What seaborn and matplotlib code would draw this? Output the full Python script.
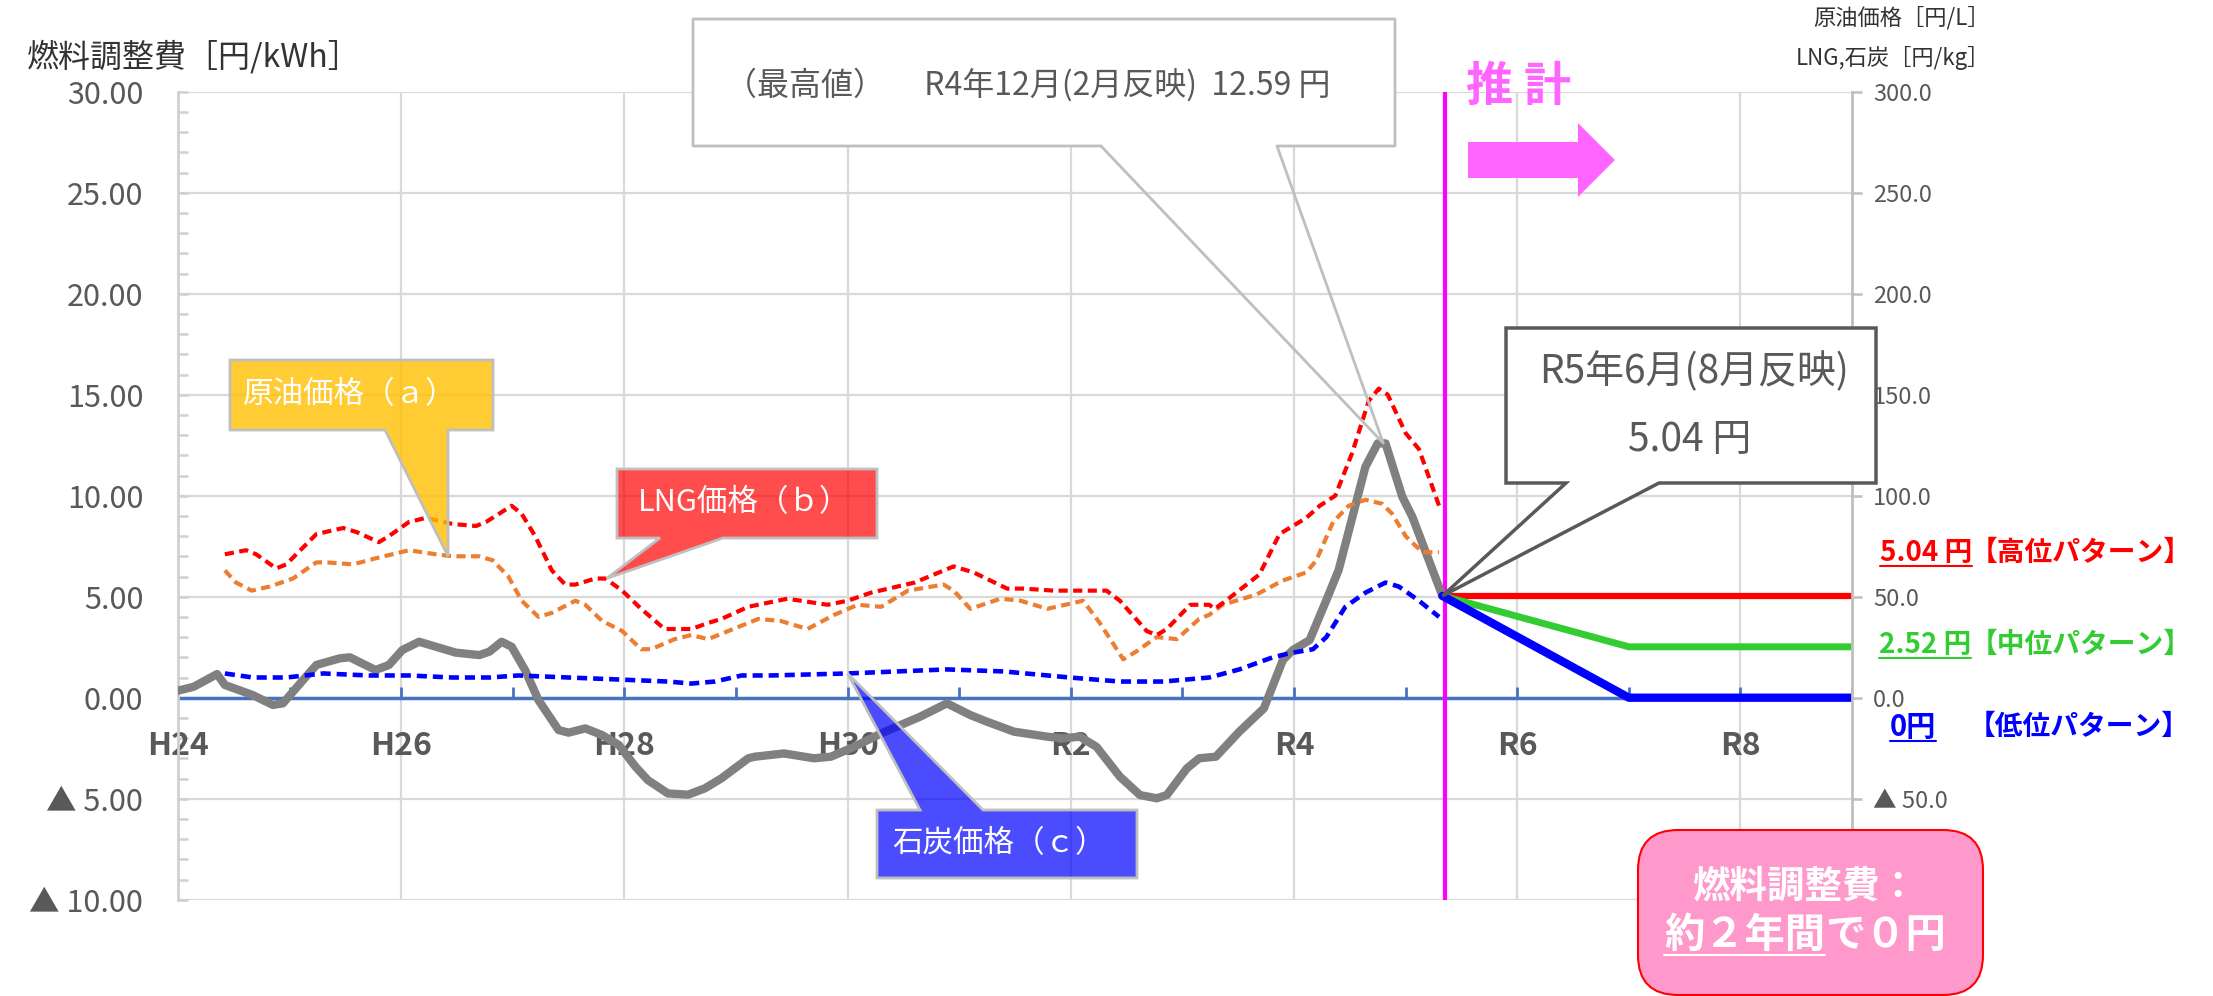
import numpy as np
import pandas as pd
import seaborn as sns
import matplotlib.pyplot as plt
from matplotlib.patches import Polygon, Rectangle, FancyBboxPatch
from matplotlib.lines import Line2D
from matplotlib.ticker import MultipleLocator
from matplotlib.colors import to_rgba

# 燃料調整費 [円/kWh] (left axis)
fee_year = [2012.00, 2012.14, 2012.35, 2012.42, 2012.67, 2012.85, 2012.94, 2013.12, 2013.24, 2013.45,
            2013.54, 2013.77, 2013.89, 2014.01, 2014.16, 2014.49, 2014.70, 2014.79, 2014.90, 2014.99,
            2015.11, 2015.23, 2015.41, 2015.50, 2015.65, 2015.80, 2015.95, 2016.10, 2016.21, 2016.39,
            2016.57, 2016.72, 2016.87, 2017.11, 2017.17, 2017.43, 2017.70, 2017.85, 2018.06, 2018.30,
            2018.51, 2018.65, 2018.89, 2019.10, 2019.25, 2019.49, 2019.79, 2019.93, 2020.08, 2020.23,
            2020.44, 2020.62, 2020.77, 2020.86, 2021.04, 2021.15, 2021.30, 2021.51, 2021.73, 2021.90,
            2021.99, 2022.14, 2022.29, 2022.40, 2022.64, 2022.75, 2022.82, 2022.97, 2023.06, 2023.33]
fee_value = [0.35, 0.54, 1.17, 0.63, 0.13, -0.36, -0.28, 0.87, 1.62, 1.95,
             2.00, 1.37, 1.62, 2.36, 2.77, 2.23, 2.11, 2.28, 2.77, 2.52,
             1.37, -0.12, -1.60, -1.73, -1.52, -1.85, -2.34, -3.42, -4.08, -4.74,
             -4.80, -4.49, -3.99, -3.00, -2.92, -2.76, -3.00, -2.92, -2.43, -1.77,
             -1.27, -0.94, -0.28, -0.86, -1.19, -1.68, -1.93, -2.01, -1.93, -2.43,
             -3.91, -4.82, -4.98, -4.82, -3.50, -3.00, -2.92, -1.68, -0.53, 1.86,
             2.36, 2.85, 4.83, 6.32, 11.43, 12.59, 12.59, 9.95, 8.96, 5.04]

# 原油価格 [円/L] (right axis)
oil_year = [2012.42, 2012.52, 2012.66, 2012.82, 2013.03, 2013.24, 2013.33, 2013.57, 2013.77, 2014.07,
            2014.31, 2014.46, 2014.70, 2014.82, 2014.96, 2015.08, 2015.23, 2015.35, 2015.56, 2015.65,
            2015.80, 2015.98, 2016.15, 2016.24, 2016.45, 2016.60, 2016.75, 2016.93, 2017.20, 2017.40,
            2017.64, 2017.88, 2018.09, 2018.30, 2018.54, 2018.86, 2018.95, 2019.10, 2019.37, 2019.55,
            2019.79, 2020.11, 2020.26, 2020.47, 2020.59, 2020.77, 2020.95, 2021.15, 2021.24, 2021.36,
            2021.66, 2021.90, 2022.11, 2022.20, 2022.35, 2022.49, 2022.64, 2022.79, 2022.88, 2023.00,
            2023.15, 2023.30]
oil_value = [63, 57, 53, 55, 59, 67, 67, 66, 69, 73,
             71, 70, 70, 68, 60, 48, 40, 42, 48, 46,
             38, 33, 24, 24, 29, 31, 29, 33, 39, 38,
             34, 41, 46, 45, 53, 56, 53, 44, 49, 48,
             44, 48, 37, 19, 23, 30, 29, 39, 41, 46,
             51, 58, 62, 68, 87, 95, 98, 96, 91, 80,
             72, 72]

# LNG価格 [円/kg] (right axis)
lng_year = [2012.42, 2012.61, 2012.70, 2012.88, 2012.97, 2013.24, 2013.48, 2013.60, 2013.80, 2013.89,
            2014.07, 2014.22, 2014.46, 2014.67, 2014.76, 2014.99, 2015.08, 2015.20, 2015.35, 2015.47,
            2015.56, 2015.74, 2015.83, 2015.98, 2016.15, 2016.36, 2016.48, 2016.60, 2016.75, 2016.87,
            2017.11, 2017.46, 2017.82, 2018.00, 2018.21, 2018.60, 2018.95, 2019.13, 2019.43, 2019.58,
            2019.85, 2020.32, 2020.44, 2020.68, 2020.77, 2020.86, 2021.07, 2021.24, 2021.29, 2021.39,
            2021.69, 2021.87, 2022.11, 2022.23, 2022.37, 2022.52, 2022.67, 2022.76, 2022.84, 2023.00,
            2023.12, 2023.30]
lng_value = [71, 73, 71, 64, 66, 81, 84, 82, 77, 80,
             87, 89, 86, 85, 87, 95, 91, 80, 63, 56,
             56, 59, 59, 53, 44, 34, 34, 34, 37, 39,
             45, 49, 46, 48, 52, 57, 65, 62, 54, 54,
             53, 53, 48, 33, 31, 34, 46, 46, 44, 48,
             61, 81, 89, 95, 100, 121, 147, 153, 150, 131,
             123, 95]

# 石炭価格 [円/kg] (right axis)
coal_year = [2012.42, 2012.67, 2012.97, 2013.30, 2013.71, 2014.07, 2014.46, 2014.79, 2015.05, 2015.50,
             2015.95, 2016.39, 2016.60, 2016.81, 2017.05, 2017.31, 2018.00, 2018.89, 2019.40, 2019.99,
             2020.44, 2020.83, 2021.24, 2021.51, 2021.81, 2021.96, 2022.17, 2022.29, 2022.46, 2022.64,
             2022.82, 2022.94, 2023.12, 2023.30]
coal_value = [12, 10, 10, 12, 11, 11, 10, 10, 11, 10,
              9, 8, 7, 8, 11, 11, 12, 14, 13, 10,
              8, 8, 10, 14, 20, 22, 24, 30, 45, 52,
              57, 55, 48, 40]

# 推計 (forecast patterns)
forecast_year = [2023.33, 2025.0, 2027.0]
high_value = [5.04, 5.04, 5.04]
mid_value = [5.04, 2.52, 2.52]
low_value = [5.04, 0.0, 0.0]

year_labels = ["H24", "H26", "H28", "H30", "R2", "R4", "R6", "R8"]
year_label_pos = [2012, 2014, 2016, 2018, 2020, 2022, 2024, 2026]
left_ticks = [-10, -5, 0, 5, 10, 15, 20, 25, 30]
left_labels = ["▲ 10.00", "▲ 5.00", "0.00", "5.00", "10.00", "15.00", "20.00", "25.00", "30.00"]
right_ticks = [-100, -50, 0, 50, 100, 150, 200, 250, 300]
# the -100 label sits under the summary box in the reference
right_labels = ["", "▲ 50.0", "0.0", "50.0", "100.0", "150.0", "200.0", "250.0", "300.0"]

sns.set_theme(style="white")
plt.rcParams['font.family'] = ['Noto Sans CJK JP', 'DejaVu Sans']

W, H = 2213, 996
fig = plt.figure(figsize=(W / 100, H / 100), dpi=100)
ax = fig.add_axes([178 / W, 1 - 899.7 / H, (1852 - 178) / W, (899.7 - 91.7) / H])
ax2 = ax.twinx()

grid_c = '#D9D9D9'
lab_c = '#595959'

# left axis
ax.set_xlim(2012, 2027)
ax.set_ylim(-10, 30)
ax.set_xticks(year_label_pos[1:])
ax.tick_params(axis='x', length=0, labelbottom=False)
ax.set_yticks(left_ticks)
ax.set_yticklabels(left_labels)
ax.yaxis.set_minor_locator(MultipleLocator(1))
ax.tick_params(axis='y', which='both', direction='in', length=7, width=1.8, color='#D0D0D0',
               labelsize=22, labelcolor=lab_c, pad=25)
ax.grid(True, which='major', color=grid_c, lw=1.6)
for s in ['top', 'bottom', 'right']:
    ax.spines[s].set_visible(False)
ax.spines['left'].set_color('#D0D0D0')
ax.spines['left'].set_linewidth(2)

# right axis
ax2.set_ylim(-100, 300)
ax2.set_yticks(right_ticks)
ax2.set_yticklabels(right_labels)
ax2.tick_params(axis='y', direction='out', length=7, width=1.8, color='#BFBFBF',
                labelsize=17, labelcolor=lab_c, pad=8)
ax2.grid(False)
for s in ['top', 'bottom', 'left']:
    ax2.spines[s].set_visible(False)
ax2.spines['right'].set_color('#BFBFBF')
ax2.spines['right'].set_linewidth(2)

# zero axis with yearly ticks
ax.axhline(0, color='#4472C4', lw=2.5, zorder=2)
ax.vlines(list(range(2012, 2028)), 0, 0.55, color='#4472C4', lw=2, zorder=2)
ax.axvline(2023.35, color='#FF00FF', lw=3, zorder=3)

for yr, lbl in zip(year_label_pos, year_labels):
    ax.text(yr, -2.4, lbl, ha='center', va='center', fontsize=23, fontweight='bold', color=lab_c, zorder=2)

# series
sns.lineplot(x=fee_year, y=fee_value, ax=ax, color='#808080', lw=6, sort=False, estimator=None,
             solid_joinstyle='round', solid_capstyle='round', zorder=4)
sns.lineplot(x=forecast_year, y=high_value, ax=ax, color='#FF0000', lw=4.5, sort=False, estimator=None, zorder=5)
sns.lineplot(x=forecast_year, y=mid_value, ax=ax, color='#33CC33', lw=5, sort=False, estimator=None, zorder=5)
sns.lineplot(x=forecast_year, y=low_value, ax=ax, color='#0000FF', lw=6, sort=False, estimator=None, zorder=5)

dash = (0, (2.2, 1.3))
sns.lineplot(x=oil_year, y=oil_value, ax=ax2, color='#ED7D31', lw=3, linestyle=dash, sort=False, estimator=None)
sns.lineplot(x=lng_year, y=lng_value, ax=ax2, color='#FF0000', lw=3, linestyle=dash, sort=False, estimator=None)
sns.lineplot(x=coal_year, y=coal_value, ax=ax2, color='#0000FF', lw=3.3, linestyle=dash, sort=False, estimator=None)
ax.set_xlim(2012, 2027)
ax.set_ylim(-10, 30)
ax2.set_ylim(-100, 300)
ax.set_xlabel("")
ax.set_ylabel("")
ax2.set_xlabel("")
ax2.set_ylabel("")

# annotation helpers (pixel coords from top-left -> inches)
tr = fig.dpi_scale_trans


def P(x, y):
    return (x / 100, (H - y) / 100)


def T(axis, x, y):
    d = axis.transData.transform((x, y))
    return (d[0] / 100, d[1] / 100)


def ftext(x, y, s, **kw):
    kw.setdefault('va', 'center')
    kw.setdefault('zorder', 12)
    return fig.text(x / 100, (H - y) / 100, s, transform=tr, **kw)


def callout(x0, y0, x1, y1, b0, b1, tip, face, edge, lw, bottom=True):
    if bottom:
        verts = [P(x0, y0), P(x1, y0), P(x1, y1), P(b1, y1), tip, P(b0, y1), P(x0, y1)]
    else:
        verts = [P(x0, y0), P(b0, y0), tip, P(b1, y0), P(x1, y0), P(x1, y1), P(x0, y1)]
    fig.add_artist(Polygon(verts, closed=True, facecolor=face, edgecolor=edge, lw=lw,
                           transform=tr, zorder=10))


callout(230, 360, 493, 430, 385, 448, T(ax2, 2014.42, 70), to_rgba('#FFC000', 0.8), '#BFBFBF', 2)
callout(617, 469, 877, 538, 660, 723, T(ax2, 2015.84, 59), to_rgba('#FF0000', 0.7), '#BFBFBF', 2)
callout(877, 810, 1137, 878, 920, 983, T(ax2, 2018.0, 12), to_rgba('#0000FF', 0.7), '#BFBFBF', 2, bottom=False)
ftext(243, 395, "原油価格（ａ）", color='white', fontsize=22)
ftext(638, 503, "LNG価格（ｂ）", color='white', fontsize=22)
ftext(892, 844, "石炭価格（ｃ）", color='white', fontsize=22)

# peak callout (box filled, pointer outline only)
tip_peak = T(ax, 2022.8, 12.6)
fig.add_artist(Rectangle(P(693, 146), 7.02, 1.27, facecolor='white', edgecolor='none', transform=tr, zorder=10))
outline = [P(1101, 146), P(693, 146), P(693, 19), P(1395, 19), P(1395, 146), P(1277, 146), tip_peak, P(1101, 146)]
fig.add_artist(Line2D([p[0] for p in outline], [p[1] for p in outline], color='#BFBFBF', lw=2,
                      transform=tr, zorder=11))
ftext(725, 85, "（最高値）　 R4年12月(2月反映)  12.59 円", color=lab_c, fontsize=23)

# R5 callout
callout(1506, 328, 1876, 483, 1566, 1659, T(ax, 2023.33, 5.04), 'white', '#595959', 2.5)
ftext(1694, 372, "R5年6月(8月反映)", color=lab_c, fontsize=28, ha='center')
ftext(1690, 440, "5.04 円", color=lab_c, fontsize=28, ha='center')

# 推計 arrow
ftext(1466, 87, "推 計", color='#FF66FF', fontsize=34, fontweight='bold')
arrow = [P(1468, 142), P(1578, 142), P(1578, 123), P(1615, 160), P(1578, 197), P(1578, 178), P(1468, 178)]
fig.add_artist(Polygon(arrow, closed=True, facecolor='#FF66FF', edgecolor='none', transform=tr, zorder=10))

# axis titles
ftext(27, 57, "燃料調整費［円/kWh］", color='#333333', fontsize=23)
ftext(1990, 18, "原油価格［円/L］", color='#333333', fontsize=16, ha='right')
ftext(1990, 58, "LNG,石炭［円/kg］", color='#333333', fontsize=16, ha='right')

# pattern labels
t_high = ftext(1880, 553, "5.04 円", color='#FF0000', fontsize=20, fontweight='bold')
ftext(1970, 553, "【高位パターン】", color='#FF0000', fontsize=20, fontweight='bold')
t_mid = ftext(1879, 645, "2.52 円", color='#33CC33', fontsize=20, fontweight='bold')
ftext(1970, 645, "【中位パターン】", color='#33CC33', fontsize=20, fontweight='bold')
t_low = ftext(1890, 727, "0円", color='#0000FF', fontsize=21, fontweight='bold')
ftext(1968, 727, "【低位パターン】", color='#0000FF', fontsize=20, fontweight='bold')

# pink summary box
fig.add_artist(FancyBboxPatch(P(1638, 995), 3.45, 1.65, boxstyle='round,pad=0,rounding_size=0.4',
                              facecolor='#FF99CC', edgecolor='#FF0000', lw=1.5, transform=tr, zorder=10))
ftext(1805, 886, "燃料調整費：", color='white', fontsize=27, fontweight='bold', ha='center')
t_pink = ftext(1664, 935, "約２年間", color='white', fontsize=29, fontweight='bold')

# underlines and the text that follows the underlined part
fig.canvas.draw()
bb = t_pink.get_window_extent()
fig.text(bb.x1 / 100, (H - 935) / 100, "で０円", transform=tr, color='white', fontsize=29,
         fontweight='bold', va='center', zorder=12)
for t, c in [(t_high, '#FF0000'), (t_mid, '#33CC33'), (t_low, '#0000FF'), (t_pink, 'white')]:
    bb = t.get_window_extent()
    fig.add_artist(Line2D([bb.x0 / 100, bb.x1 / 100], [bb.y0 / 100 + 0.01] * 2, color=c, lw=1.5,
                          transform=tr, zorder=12))

fig.savefig('out.png', dpi=100)
